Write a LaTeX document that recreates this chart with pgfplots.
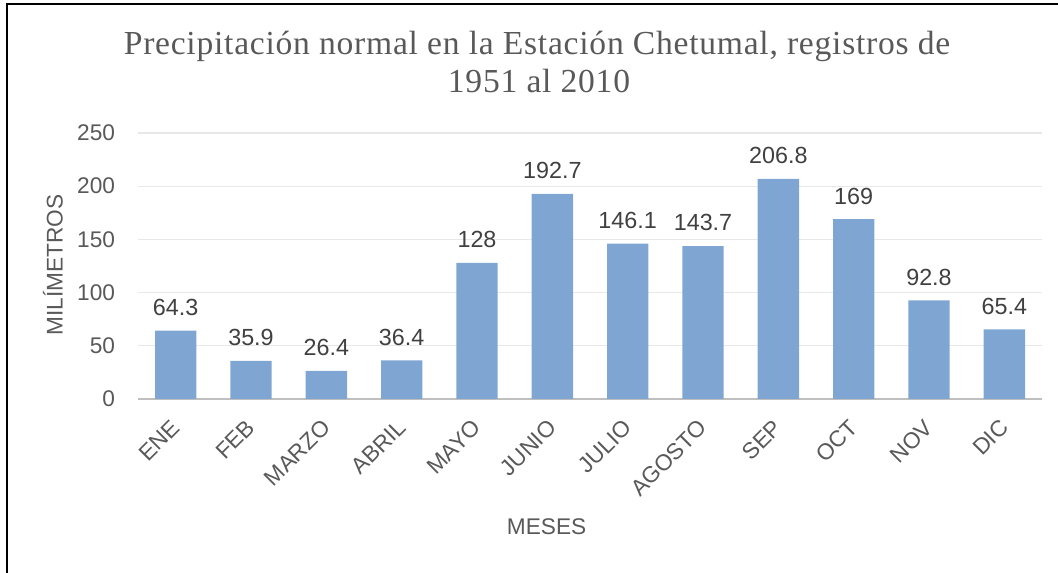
\documentclass[border=0pt]{standalone}
\usepackage{pgfplots}
\pgfplotsset{compat=1.18}
\usepackage{fontspec}
\setmainfont{Liberation Sans}
\newfontfamily\titlefont[LetterSpace=2.2]{Liberation Serif}
\definecolor{barc}{RGB}{127,166,210}
\definecolor{txt}{RGB}{89,89,89}
\definecolor{lbl}{RGB}{64,64,64}
\begin{document}
\begin{tikzpicture}
\begin{scope}[x=0.75pt,y=0.75pt]
\useasboundingbox (0,0) rectangle (1058,573);
\draw[line width=1.5pt] (7,0) -- (7,568.5) -- (1058,568.5);
\node[font=\titlefont\fontsize{25.2}{28}\selectfont, text=txt, anchor=base] at (537,518) {Precipitación normal en la Estación Chetumal, registros de};
\node[font=\titlefont\fontsize{25.2}{28}\selectfont, text=txt, anchor=base] at (539,480) {1951 al 2010};
\end{scope}
\begin{axis}[
  at={(103.5pt,130.5pt)}, anchor=south west,
  scale only axis, width=678pt, height=199.5pt,
  ymin=0, ymax=250, xmin=-0.5, xmax=11.5,
  /pgf/number format/assume math mode=true,
  ybar, bar width=31pt,
  axis x line*=bottom, axis y line*=left,
  axis line style={-},
  y axis line style={draw=none},
  x axis line style={draw=black!25, line width=1.5pt},
  major tick length=0pt,
  ytick={0,50,100,150,200,250},
  ymajorgrids, grid style={draw=black!9, line width=1pt},
  xtick={0,...,11},
  xticklabels={ENE,FEB,MARZO,ABRIL,MAYO,JUNIO,JULIO,AGOSTO,SEP,OCT,NOV,DIC},
  xticklabel style={yshift=-18.5pt, rotate=45, anchor=east, font=\fontsize{17}{20}\selectfont, text=txt, inner sep=0pt},
  yticklabel style={anchor=east, font=\fontsize{17}{20}\selectfont, text=txt, inner sep=0pt, xshift=-17pt},
  xlabel={MESES}, ylabel={MILÍMETROS},
  label style={font=\fontsize{17}{20}\selectfont, text=txt},
  xlabel style={at={(axis description cs:0.452,-0.481)}, anchor=center},
  ylabel style={at={(axis description cs:-0.094,0.504)}, anchor=center},
  nodes near coords,
  every node near coord/.append style={font=\fontsize{17.5}{20}\selectfont, text=lbl, inner sep=0pt, anchor=south, yshift=11pt},
]
\addplot[fill=barc, draw=none] coordinates {
(0,64.3) (1,35.9) (2,26.4) (3,36.4) (4,128) (5,192.7) (6,146.1) (7,143.7) (8,206.8) (9,169) (10,92.8) (11,65.4)};
\end{axis}
\end{tikzpicture}
\end{document}
